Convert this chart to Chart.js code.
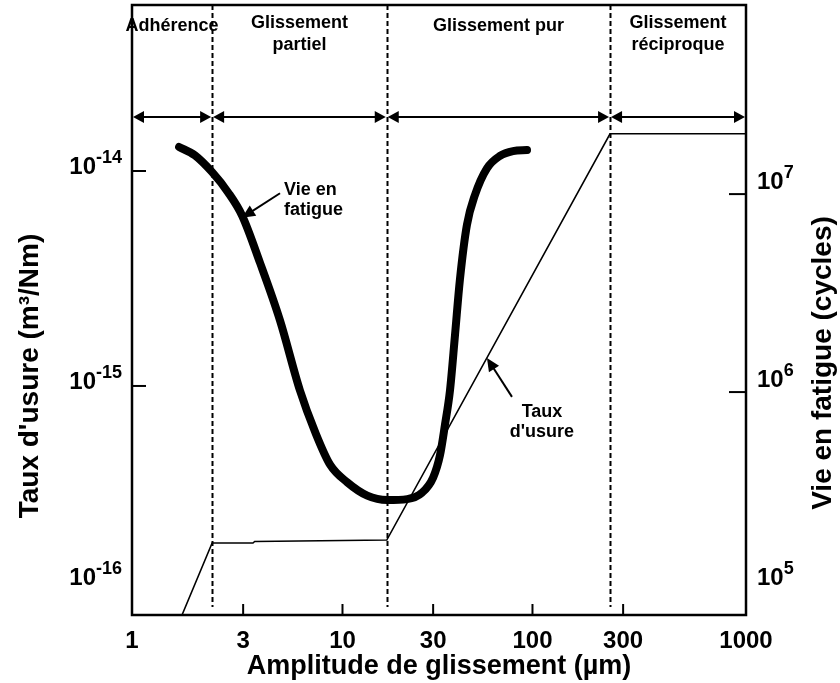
<!DOCTYPE html>
<html>
<head>
<meta charset="utf-8">
<script src="https://cdn.jsdelivr.net/npm/chart.js@4.4.1/dist/chart.umd.min.js"></script>
<style>
  html, body { margin: 0; padding: 0; background: #fff; }
  #wrap { width: 840px; height: 683px; }
</style>
</head>
<body>
<div id="wrap"><canvas id="chart" width="840" height="683"></canvas></div>
<script>
const FONT = '"Liberation Sans", Arial, Helvetica, sans-serif';

// --- données ---
// amplitude de glissement (µm) / vie en fatigue (cycles)
const fatigueX = [1.38, 1.67, 2.06, 2.5, 2.96, 3.68, 4.69, 5.97, 7.17, 8.6, 10.6, 13.5, 17.2, 21.9, 26.2, 30.0, 32.6, 34.6, 36.8, 39.1, 41.5, 45.2, 49.8, 57.6, 67.4, 79.0, 93.6];
const fatigueY = [1.73e7, 1.57e7, 1.29e7, 1.02e7, 7.8e6, 4.5e6, 2.3e6, 1.02e6, 6.3e5, 4.3e5, 3.5e5, 3.0e5, 2.85e5, 2.88e5, 3.1e5, 3.7e5, 4.8e5, 6.8e5, 1.02e6, 1.94e6, 3.7e6, 7.0e6, 9.9e6, 1.35e7, 1.56e7, 1.65e7, 1.67e7];

// taux d'usure (m3/Nm)
const wearX = [1.43, 2.06, 3.38, 3.45, 17.1, 256, 1330];
const wearY = [8.6e-17, 1.86e-16, 1.86e-16, 1.89e-16, 1.92e-16, 1.49e-14, 1.49e-14];

// régimes de glissement
const regimeBounds = [0.78, 2.06, 17.1, 256, 1330];
const regimeLabels = [["Adhérence"], ["Glissement", "partiel"], ["Glissement pur"], ["Glissement", "réciproque"]];

// graduations
const xTicks = [0.78, 3, 10, 30, 100, 300, 1330];
const xTickLabels = ["1", "3", "10", "30", "100", "300", "1000"];
const wearTicks = [1e-16, 1e-15, 1e-14];
const wearTickExp = ["-16", "-15", "-14"];
const cycleTicks = [1e5, 1e6, 1e7];
const cycleTickExp = ["5", "6", "7"];

// --- petits outils de dessin ---
function arrowHead(ctx, x, y, ux, uy, len, half) {
    ctx.beginPath();
    ctx.moveTo(x, y);
    ctx.lineTo(x - ux * len - uy * half, y - uy * len + ux * half);
    ctx.lineTo(x - ux * len + uy * half, y - uy * len - ux * half);
    ctx.closePath();
    ctx.fill();
}

function drawPow(ctx, exp, x, y, align) {
    ctx.font = "bold 24px " + FONT;
    const w1 = ctx.measureText("10").width;
    ctx.font = "bold 18px " + FONT;
    const w2 = ctx.measureText(exp).width;
    const x0 = align === "right" ? x - w1 - w2 : x;
    ctx.textAlign = "left";
    ctx.textBaseline = "middle";
    ctx.font = "bold 24px " + FONT;
    ctx.fillText("10", x0, y);
    ctx.font = "bold 18px " + FONT;
    ctx.fillText(exp, x0 + w1, y - 9);
}

// lignes pointillées des frontières (sous les courbes)
const boundsPlugin = {
    id: "bounds",
    beforeDatasetsDraw(chart) {
        const { ctx, chartArea: a, scales } = chart;
        ctx.save();
        ctx.strokeStyle = "#000";
        ctx.lineWidth = 2;
        ctx.setLineDash([5, 3]);
        regimeBounds.slice(1, -1).forEach(b => {
            const px = Math.round(scales.x.getPixelForValue(b)) + 0.5;
            ctx.beginPath();
            ctx.moveTo(px, a.top);
            ctx.lineTo(px, a.bottom - 8);
            ctx.stroke();
        });
        ctx.restore();
    }
};

// cadre, graduations, titres, annotations
const decorPlugin = {
    id: "decor",
    afterDraw(chart) {
        const { ctx, chartArea: a, scales } = chart;
        const sx = scales.x, sw = scales.yWear, sc = scales.yCycles;
        ctx.save();
        ctx.fillStyle = "#000";
        ctx.strokeStyle = "#000";

        // cadre
        ctx.lineWidth = 2.5;
        ctx.strokeRect(a.left, a.top, a.right - a.left, a.bottom - a.top);

        // graduations vers l'intérieur
        ctx.lineWidth = 2;
        xTicks.slice(1, -1).forEach(v => {
            const px = sx.getPixelForValue(v);
            ctx.beginPath(); ctx.moveTo(px, a.bottom); ctx.lineTo(px, a.bottom - 11); ctx.stroke();
        });
        wearTicks.forEach((v, i) => {
            const py = sw.getPixelForValue(v);
            if (py < a.bottom - 30) {
                ctx.beginPath(); ctx.moveTo(a.left, py); ctx.lineTo(a.left + 14, py); ctx.stroke();
            }
            drawPow(ctx, wearTickExp[i], a.left - 10, Math.min(py - 4, a.bottom - 37), "right");
        });
        cycleTicks.forEach((v, i) => {
            const py = sc.getPixelForValue(v);
            if (py < a.bottom - 30) {
                ctx.beginPath(); ctx.moveTo(a.right, py); ctx.lineTo(a.right - 17, py); ctx.stroke();
            }
            drawPow(ctx, cycleTickExp[i], a.right + 11, Math.min(py - 12, a.bottom - 30), "left");
        });

        // titres des axes verticaux
        ctx.font = "bold 28px " + FONT;
        ctx.textAlign = "center";
        ctx.textBaseline = "middle";
        ctx.save();
        ctx.translate(30, 376);
        ctx.rotate(-Math.PI / 2);
        ctx.fillText("Taux d'usure (m³/Nm)", 0, 0);
        ctx.restore();
        ctx.save();
        ctx.translate(823, 363);
        ctx.rotate(-Math.PI / 2);
        ctx.fillText("Vie en fatigue (cycles)", 0, 0);
        ctx.restore();

        // régimes : flèches doubles et intitulés
        const ay = a.top + 112;
        ctx.lineWidth = 2;
        ctx.font = "bold 18px " + FONT;
        for (let i = 0; i < regimeLabels.length; i++) {
            const x1 = sx.getPixelForValue(regimeBounds[i]);
            const x2 = sx.getPixelForValue(regimeBounds[i + 1]);
            ctx.beginPath(); ctx.moveTo(x1 + 4, ay); ctx.lineTo(x2 - 4, ay); ctx.stroke();
            arrowHead(ctx, x1 + 1, ay, -1, 0, 11, 6);
            arrowHead(ctx, x2 - 1, ay, 1, 0, 11, 6);
            const cx = (x1 + x2) / 2;
            const lines = regimeLabels[i];
            lines.forEach((t, k) => {
                const ty = lines.length === 1 ? a.top + 21 : a.top + 18 + k * 22;
                ctx.fillText(t, cx, ty);
            });
        }

        // annotation "Vie en fatigue"
        ctx.lineWidth = 2;
        let tipX = sx.getPixelForValue(2.96), tipY = sc.getPixelForValue(7.6e6);
        let tailX = sx.getPixelForValue(4.69), tailY = sc.getPixelForValue(1.01e7);
        let len = Math.hypot(tipX - tailX, tipY - tailY);
        let ux = (tipX - tailX) / len, uy = (tipY - tailY) / len;
        ctx.beginPath(); ctx.moveTo(tailX, tailY); ctx.lineTo(tipX - ux * 8, tipY - uy * 8); ctx.stroke();
        arrowHead(ctx, tipX, tipY, ux, uy, 13, 6);
        ctx.textAlign = "left";
        ctx.fillText("Vie en", tailX + 4, tailY - 3);
        ctx.fillText("fatigue", tailX + 4, tailY + 17);

        // annotation "Taux d'usure"
        tipX = sx.getPixelForValue(57.6); tipY = sw.getPixelForValue(1.35e-15);
        tailX = sx.getPixelForValue(78); tailY = sw.getPixelForValue(8.9e-16);
        len = Math.hypot(tipX - tailX, tipY - tailY);
        ux = (tipX - tailX) / len; uy = (tipY - tailY) / len;
        ctx.beginPath(); ctx.moveTo(tailX, tailY); ctx.lineTo(tipX - ux * 8, tipY - uy * 8); ctx.stroke();
        arrowHead(ctx, tipX, tipY, ux, uy, 13, 6);
        ctx.textAlign = "center";
        ctx.fillText("Taux", tailX + 30, tailY + 15);
        ctx.fillText("d'usure", tailX + 30, tailY + 35);

        ctx.restore();
    }
};

const ctx = document.getElementById("chart").getContext("2d");

new Chart(ctx, {
    type: "scatter",
    data: {
        datasets: [{
            label: "Vie en fatigue",
            data: fatigueX.map((x, i) => ({ x: x, y: fatigueY[i] })),
            yAxisID: "yCycles",
            showLine: true,
            borderColor: "#000",
            borderWidth: 8,
            pointRadius: 0,
            cubicInterpolationMode: "monotone",
            borderCapStyle: "round",
            borderJoinStyle: "round"
        }, {
            label: "Taux d'usure",
            data: wearX.map((x, i) => ({ x: x, y: wearY[i] })),
            yAxisID: "yWear",
            showLine: true,
            borderColor: "#000",
            borderWidth: 1.6,
            pointRadius: 0,
            tension: 0
        }]
    },
    options: {
        responsive: false,
        animation: false,
        layout: { padding: { top: 5, left: 0, right: 0, bottom: 0 } },
        plugins: {
            legend: { display: false },
            tooltip: { enabled: false }
        },
        scales: {
            x: {
                type: "logarithmic",
                min: 0.78,
                max: 1330,
                grid: { display: false },
                border: { display: false },
                afterBuildTicks: s => { s.ticks = xTicks.map(v => ({ value: v })); },
                afterFit: s => { s.height = 68; },
                ticks: {
                    autoSkip: false,
                    maxRotation: 0,
                    padding: 4,
                    color: "#000",
                    font: { family: FONT, size: 24, weight: "bold" },
                    callback: (v, i) => xTickLabels[i]
                },
                title: {
                    display: true,
                    text: "Amplitude de glissement (µm)",
                    color: "#000",
                    font: { family: FONT, size: 27, weight: "bold" },
                    padding: { top: 0, bottom: 0 }
                }
            },
            yWear: {
                type: "logarithmic",
                position: "left",
                min: 8.6e-17,
                max: 5.92e-14,
                grid: { display: false },
                border: { display: false },
                ticks: { display: false },
                afterFit: s => { s.width = 132; }
            },
            yCycles: {
                type: "logarithmic",
                position: "right",
                min: 7.48e4,
                max: 9.02e7,
                grid: { display: false },
                border: { display: false },
                ticks: { display: false },
                afterFit: s => { s.width = 94; }
            }
        }
    },
    plugins: [boundsPlugin, decorPlugin]
});
</script>
</body>
</html>
